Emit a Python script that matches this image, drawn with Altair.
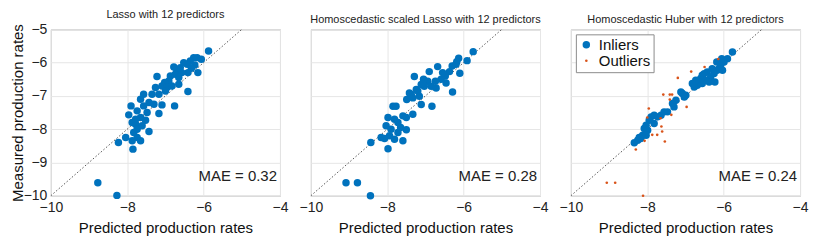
import altair as alt
import pandas as pd

# ---- data ----
lasso_pred = [-5.87,-6.26,-6.17,-6.06,-6.35,-6.43,-6.23,-6.32,-6.15,-6.41,-6.61,-6.70,-6.78,-6.74,-6.87,-6.65,-6.91,-7.02,-7.09,-6.96,
              -6.83,-7.22,-6.41,-6.65,-7.17,-7.35,-7.57,-7.65,-7.43,-7.30,-7.09,-6.76,-7.90,-7.57,-7.74,-7.96,-7.48,-7.17,-7.87,-7.65,
              -7.52,-7.78,-7.74,-7.83,-7.43,-8.04,-7.74,-7.65,-7.87,-8.23,-7.85,-6.57,-6.52,-7.00,-7.26,-7.78,-7.61,-8.77,-8.27]
lasso_meas = [-5.65,-5.85,-5.85,-5.90,-5.95,-6.05,-6.07,-6.17,-6.30,-6.30,-6.15,-6.25,-6.13,-6.35,-6.40,-6.45,-6.55,-6.60,-6.70,-6.75,
              -6.70,-6.42,-6.87,-6.65,-6.95,-6.95,-6.95,-7.10,-7.20,-7.25,-7.27,-7.30,-7.30,-7.30,-7.45,-7.57,-7.50,-7.53,-7.80,-7.65,
              -7.73,-7.85,-8.00,-8.10,-8.07,-8.25,-8.25,-8.35,-8.35,-8.40,-8.60,-6.30,-6.00,-6.85,-6.75,-7.70,-7.90,-9.61,-9.99]

scaled_pred = [-5.75,-6.13,-6.18,-5.91,-6.30,-6.10,-6.37,-6.48,-6.68,-6.90,-6.59,-6.46,-6.29,-6.74,-6.94,-6.85,-7.03,-7.11,-7.29,-6.72,
               -7.24,-7.42,-7.33,-7.49,-7.16,-7.37,-7.11,-6.83,-7.85,-7.77,-7.59,-7.50,-7.33,-7.98,-7.81,-7.72,-8.03,-7.90,-7.50,-7.72,
               -7.94,-8.16,-7.81,-7.59,-8.07,-8.43,-7.98,-9.08,-8.78,-8.44,-6.55,-7.20,-7.05,-7.65,-6.20]
scaled_meas = [-5.67,-5.87,-5.97,-5.94,-6.10,-6.32,-6.27,-6.40,-6.12,-6.27,-6.50,-6.61,-6.88,-6.56,-6.56,-6.71,-6.71,-6.66,-6.42,-6.76,
               -6.81,-6.91,-7.06,-7.11,-7.01,-6.96,-7.26,-7.31,-7.31,-7.31,-7.60,-7.65,-7.55,-7.65,-7.70,-7.80,-7.90,-8.00,-8.02,-8.10,
               -8.20,-8.25,-8.30,-8.35,-8.28,-8.40,-8.59,-9.61,-9.61,-10.0,-6.30,-6.85,-6.50,-7.95,-6.05]

huber_in_pred = [-5.77,-5.90,-5.99,-6.05,-6.08,-6.18,-6.12,-6.17,-6.25,-6.43,-6.34,-6.38,-6.47,-6.51,-6.56,-6.60,-6.64,-6.69,-6.73,-6.77,
                 -6.82,-6.23,-6.99,-7.08,-7.12,-7.03,-7.25,-7.34,-7.30,-7.47,-7.56,-7.64,-7.73,-7.82,-7.90,-7.95,-8.03,-8.08,-7.99,-8.12,
                 -8.21,-8.25,-8.34,-8.17,-8.03,-7.82,-6.30,-6.03,-6.56]
huber_in_meas = [-5.68,-5.88,-5.98,-5.88,-6.08,-5.98,-6.18,-6.23,-6.33,-6.28,-6.43,-6.58,-6.53,-6.33,-6.63,-6.48,-6.58,-6.68,-6.53,-6.73,
                 -6.63,-6.58,-6.98,-6.93,-6.88,-7.03,-7.13,-7.23,-7.33,-7.48,-7.48,-7.58,-7.63,-7.58,-7.63,-7.73,-7.88,-7.98,-8.03,-8.18,
                 -8.25,-8.33,-8.41,-8.28,-8.18,-7.83,-6.18,-6.23,-6.38]
huber_out_pred = [-6.14,-6.50,-6.85,-7.20,-7.58,-7.41,-7.35,-7.41,-6.97,-7.37,-7.96,-8.00,-7.65,-7.63,-7.74,-7.87,-7.61,-7.54,-8.07,-8.30,
                  -9.06,-8.84,-8.11]
huber_out_meas = [-5.89,-6.13,-6.27,-6.46,-6.96,-6.96,-6.96,-7.11,-7.33,-7.57,-7.38,-7.65,-7.67,-7.92,-8.17,-8.17,-8.07,-8.37,-8.35,-8.61,
                  -9.61,-9.61,-10.0]

titles = ["Lasso with 12 predictors", "Homoscedastic scaled Lasso with 12 predictors", "Homoscedastic Huber with 12 predictors"]
mae_texts = ["MAE = 0.32", "MAE = 0.28", "MAE = 0.24"]
diag_vals = [-10, -5]
x_ticks = [-10, -8, -6, -4]
y_ticks = [-10, -9, -8, -7, -6, -5]
groups = ["Inliers", "Outliers"]

BLUE = "#0072BD"
ORANGE = "#D95319"
FONT = "Liberation Sans"
W, H = 230, 167

diag_df = pd.DataFrame({"pred": diag_vals, "meas": diag_vals})


def xenc():
    return alt.X("pred:Q", scale=alt.Scale(domain=[-10, -4], nice=False),
                 axis=alt.Axis(values=x_ticks, title="Predicted production rates", format="d"))


def yenc(show):
    if show:
        ax = alt.Axis(values=y_ticks, title="Measured production rates", format="d",
                      titleX=-33, titleBaseline="middle")
    else:
        ax = alt.Axis(values=y_ticks, title=None, labels=False)
    return alt.Y("meas:Q", scale=alt.Scale(domain=[-10, -5], nice=False), axis=ax)


def panel(df, title, mae, show_y, legend=False):
    diag = alt.Chart(diag_df).mark_line(color="#555555", strokeWidth=1, strokeDash=[1.5, 2]).encode(
        x=xenc(), y=yenc(show_y))
    if legend:
        pts = alt.Chart(df).mark_circle(opacity=1).encode(
            x=xenc(), y=yenc(show_y),
            color=alt.Color("type:N", scale=alt.Scale(domain=groups, range=[BLUE, ORANGE]),
                            legend=alt.Legend(title=None, orient="top-left", offset=5,
                                              strokeColor="#8c8c8c", fillColor="white",
                                              padding=3, labelFontSize=15, labelFont=FONT,
                                              labelColor="#111111", symbolType="circle",
                                              rowPadding=0, symbolOffset=0, labelOffset=5)),
            size=alt.Size("type:N", scale=alt.Scale(domain=groups, range=[56, 7]), legend=alt.Legend(title=None)),
            order=alt.Order("ord:Q"),
        )
    else:
        pts = alt.Chart(df).mark_circle(opacity=1, color=BLUE, size=56).encode(x=xenc(), y=yenc(show_y))
    txt = alt.Chart(pd.DataFrame({"t": [mae]})).mark_text(
        align="right", baseline="middle", fontSize=15, font=FONT, color="#222222"
    ).encode(x=alt.value(W - 3), y=alt.value(147), text="t:N")
    return alt.layer(diag, pts, txt).properties(
        width=W, height=H,
        title=alt.TitleParams(title, fontSize=11, font=FONT, fontWeight="normal", color="#222222",
                              offset=2, frame="group"))


p1 = panel(pd.DataFrame({"pred": lasso_pred, "meas": lasso_meas}), titles[0], mae_texts[0], True)
p2 = panel(pd.DataFrame({"pred": scaled_pred, "meas": scaled_meas}), titles[1], mae_texts[1], False)
huber_df = pd.concat([
    pd.DataFrame({"pred": huber_in_pred, "meas": huber_in_meas, "type": "Inliers", "ord": 0}),
    pd.DataFrame({"pred": huber_out_pred, "meas": huber_out_meas, "type": "Outliers", "ord": 1}),
], ignore_index=True)
p3 = panel(huber_df, titles[2], mae_texts[2], False, legend=True)

chart = alt.hconcat(p1, p2, p3, spacing=31, bounds="flush").resolve_legend(
    color="independent", size="independent"
).properties(
    padding={"left": 2, "top": 0, "right": 0, "bottom": 0}
).configure_view(stroke="#a8a8a8", strokeWidth=1).configure_axis(
    grid=True, gridColor="#e6e6e6", gridWidth=1, ticks=False, domain=False,
    labelFont=FONT, labelFontSize=14, labelColor="#222222",
    labelFlush=False, labelOverlap=False,
    titleFont=FONT, titleFontSize=15, titleFontWeight="normal", titleColor="#111111",
).configure_axisX(titlePadding=6, labelPadding=5).configure_axisY(labelPadding=4)

chart.save("out.html", embed_options={"renderer": "svg", "actions": False})
